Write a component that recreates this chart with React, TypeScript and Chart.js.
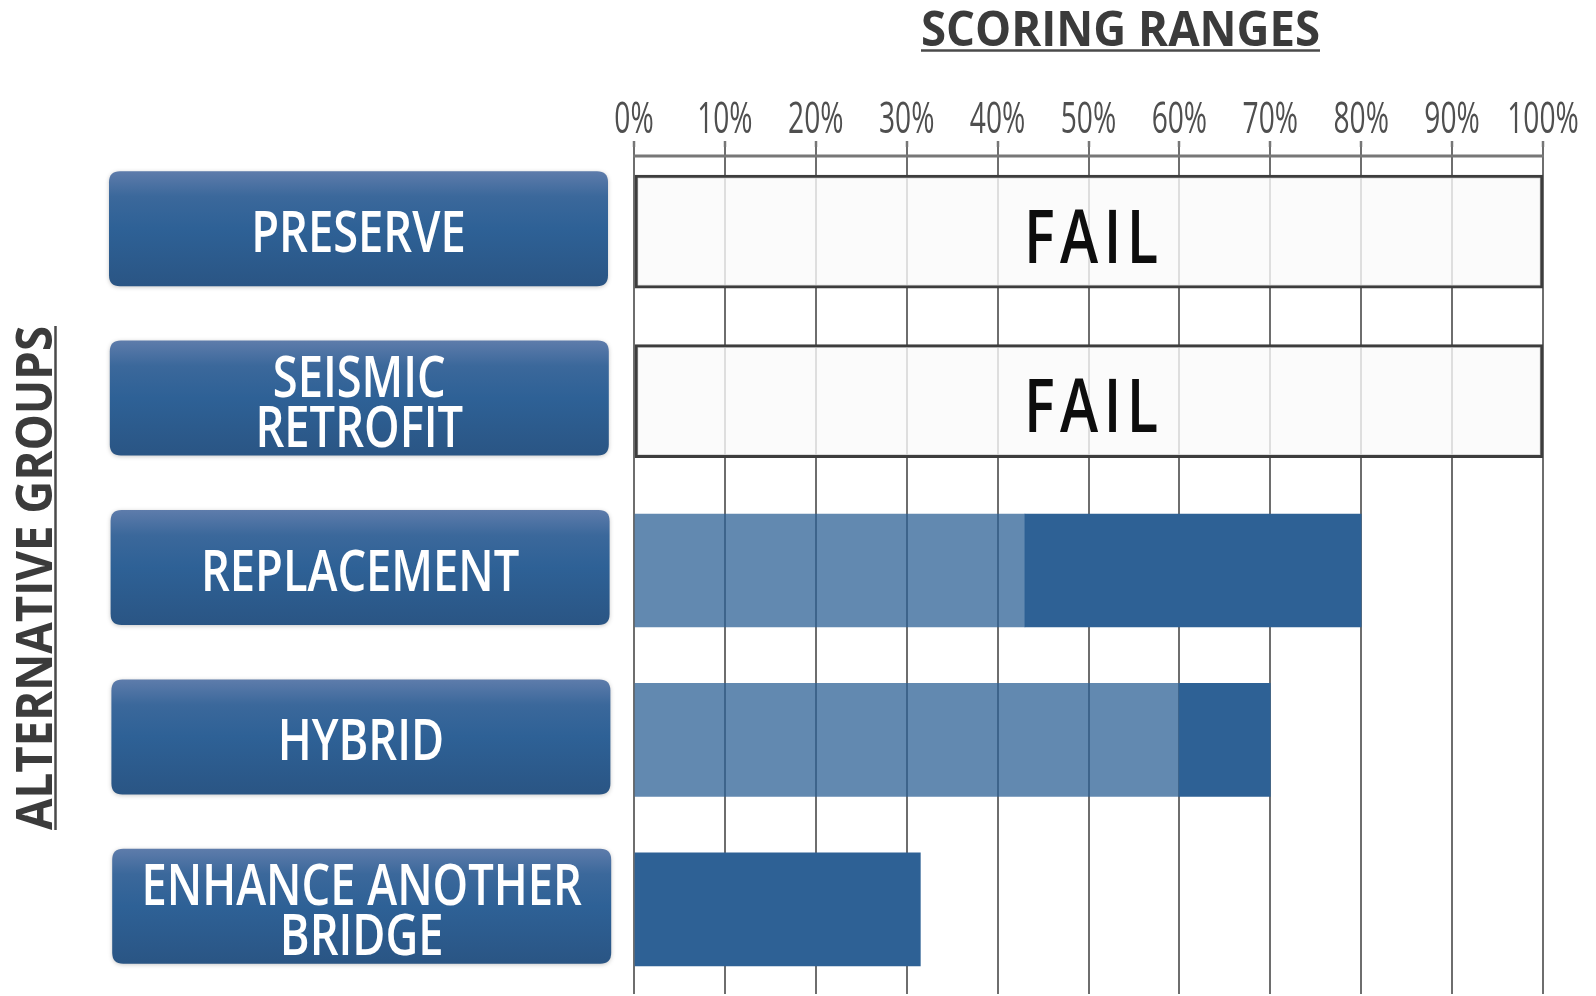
import React, { useEffect, useRef } from 'react';
import { Chart, registerables } from 'chart.js';

Chart.register(...registerables);

// ---------- data ----------
const categoryLabels: string[][] = [
  ['PRESERVE'],
  ['SEISMIC', 'RETROFIT'],
  ['REPLACEMENT'],
  ['HYBRID'],
  ['ENHANCE ANOTHER', 'BRIDGE'],
];
const failFlags: boolean[] = [true, true, false, false, false];
const lowerRangeEnd: (number | null)[] = [null, null, 43, 60, null];
const upperRangeStart: (number | null)[] = [null, null, 43, 60, 0];
const upperRangeEnd: (number | null)[] = [null, null, 80, 70, 31.5];
const xMin = 0;
const xMax = 100;
const xStep = 10;
const chartTitle = 'SCORING RANGES';
const yAxisTitle = 'ALTERNATIVE GROUPS';
const failText = 'FAIL';

// ---------- helpers ----------
function drawScaled(
  ctx: CanvasRenderingContext2D,
  text: string,
  x: number,
  y: number,
  font: string,
  color: string | CanvasGradient,
  sx: number,
  align: CanvasTextAlign = 'center',
) {
  ctx.save();
  ctx.translate(x, y);
  ctx.scale(sx, 1);
  ctx.font = font;
  ctx.fillStyle = color;
  ctx.textAlign = align;
  ctx.textBaseline = 'alphabetic';
  ctx.fillText(text, 0, 0);
  ctx.restore();
}

function roundRect(ctx: CanvasRenderingContext2D, x: number, y: number, w: number, h: number, r: number) {
  ctx.beginPath();
  ctx.moveTo(x + r, y);
  ctx.lineTo(x + w - r, y);
  ctx.quadraticCurveTo(x + w, y, x + w, y + r);
  ctx.lineTo(x + w, y + h - r);
  ctx.quadraticCurveTo(x + w, y + h, x + w - r, y + h);
  ctx.lineTo(x + r, y + h);
  ctx.quadraticCurveTo(x, y + h, x, y + h - r);
  ctx.lineTo(x, y + r);
  ctx.quadraticCurveTo(x, y, x + r, y);
  ctx.closePath();
}

const decorPlugin = {
  id: 'decor',
  beforeDraw(chart: any) {
    const ctx = chart.ctx as CanvasRenderingContext2D;
    ctx.save();
    ctx.fillStyle = '#ffffff';
    ctx.fillRect(0, 0, chart.width, chart.height);
    ctx.restore();
  },
  afterDraw(chart: any) {
    const ctx = chart.ctx as CanvasRenderingContext2D;
    const xs = chart.scales.x;
    const ys = chart.scales.y;
    const area = chart.chartArea;

    // horizontal axis line
    ctx.save();
    ctx.strokeStyle = '#777777';
    ctx.lineWidth = 3;
    ctx.beginPath();
    ctx.moveTo(area.left - 1, 156);
    ctx.lineTo(area.right + 1, 156);
    ctx.stroke();
    ctx.restore();

    // x tick labels
    xs.ticks.forEach((t: any) => {
      const px = xs.getPixelForValue(t.value);
      drawScaled(ctx, String(t.label), px, 133, '400 44px "Open Sans"', '#4f4f4f', 0.64);
    });

    // chart title
    ctx.save();
    ctx.font = 'bold 48px "Open Sans"';
    const tw = ctx.measureText(chartTitle).width;
    ctx.restore();
    const titleW = 399;
    const titleCx = 1120.5;
    drawScaled(ctx, chartTitle, titleCx, 46, 'bold 48px "Open Sans"', '#3b3b3b', titleW / tw);
    ctx.save();
    ctx.strokeStyle = '#4a4a4a';
    ctx.lineWidth = 2.5;
    ctx.beginPath();
    ctx.moveTo(titleCx - titleW / 2, 50.5);
    ctx.lineTo(titleCx + titleW / 2, 50.5);
    ctx.stroke();
    ctx.restore();

    // y axis title (rotated)
    ctx.save();
    ctx.font = 'bold 50px "Open Sans"';
    const aw = ctx.measureText(yAxisTitle).width;
    ctx.restore();
    const axisW = 504;
    const axisCy = 578;
    ctx.save();
    ctx.translate(52, axisCy);
    ctx.rotate(-Math.PI / 2);
    drawScaled(ctx, yAxisTitle, 0, 0, 'bold 50px "Open Sans"', '#3b3b3b', axisW / aw);
    ctx.restore();
    ctx.save();
    ctx.strokeStyle = '#4a4a4a';
    ctx.lineWidth = 2.5;
    ctx.beginPath();
    ctx.moveTo(55.5, axisCy - axisW / 2);
    ctx.lineTo(55.5, axisCy + axisW / 2);
    ctx.stroke();
    ctx.restore();

    // category buttons (y tick labels)
    const bx = 109;
    const bw = 499;
    const bh = 115;
    ys.ticks.forEach((t: any, i: number) => {
      const cy = ys.getPixelForValue(i);
      const top = cy - 3 - bh / 2;
      ctx.save();
      const g = ctx.createLinearGradient(0, top, 0, top + bh);
      g.addColorStop(0, '#5e7cab');
      g.addColorStop(0.22, '#3b689b');
      g.addColorStop(0.5, '#2e6196');
      g.addColorStop(1, '#2a5584');
      ctx.shadowColor = 'rgba(0,0,0,0.22)';
      ctx.shadowBlur = 4;
      ctx.shadowOffsetY = 1;
      roundRect(ctx, bx + i * 0.8, top, bw, bh, 11);
      ctx.fillStyle = g;
      ctx.fill();
      ctx.restore();

      const lines: string[] = Array.isArray(t.label) ? t.label : [String(t.label)];
      const n = lines.length;
      lines.forEach((line, j) => {
        const lc = cy + (j - (n - 1) / 2) * 50;
        const tg = ctx.createLinearGradient(0, lc - 21, 0, lc + 21);
        tg.addColorStop(0, '#ffffff');
        tg.addColorStop(0.6, '#ffffff');
        tg.addColorStop(1, '#dcdcdc');
        drawScaled(ctx, line, bx + i * 0.8 + bw / 2, lc + 20.5, '600 58px "Open Sans"', tg, 0.78);
      });
    });

    // FAIL text inside fail bars
    const meta = chart.getDatasetMeta(0);
    meta.data.forEach((el: any, i: number) => {
      if (!failFlags[i]) return;
      const cx = (el.base + el.x) / 2 + 2;
      const cy = el.y;
      ctx.save();
      ctx.font = '600 75px "Open Sans"';
      const spacing = 7;
      const chars = failText.split('');
      const widths = chars.map((c) => ctx.measureText(c).width);
      const total = widths.reduce((a, b) => a + b, 0) + spacing * (chars.length - 1);
      const sx = 0.77;
      ctx.translate(cx, cy + 31);
      ctx.scale(sx, 1);
      ctx.fillStyle = '#0d0d0d';
      ctx.textAlign = 'left';
      ctx.textBaseline = 'alphabetic';
      let x = -total / 2;
      chars.forEach((c, k) => {
        ctx.fillText(c, x, 0);
        x += widths[k] + spacing;
      });
      ctx.restore();
    });
  },
};

export default function App() {
  const canvasRef = useRef<HTMLCanvasElement | null>(null);

  useEffect(() => {
    const canvas = canvasRef.current;
    if (!canvas) return;

    const failData = failFlags.map((f) => (f ? [xMin, xMax] : null));
    const lowerData = lowerRangeEnd.map((v) => (v == null ? null : [xMin, v]));
    const upperData = upperRangeStart.map((s, i) =>
      s == null || upperRangeEnd[i] == null ? null : [s, upperRangeEnd[i] as number],
    );

    const chart = new Chart(canvas, {
      type: 'bar',
      data: {
        labels: categoryLabels as any,
        datasets: [
          {
            label: 'Fail',
            data: failData as any,
            backgroundColor: 'rgba(250,250,250,0.8)',
            borderColor: '#3d3d3d',
            borderWidth: 3,
            borderSkipped: false,
            grouped: false,
            barThickness: 113,
          } as any,
          {
            label: 'Lower range',
            data: lowerData as any,
            backgroundColor: 'rgba(46,97,149,0.75)',
            borderWidth: 0,
            borderSkipped: false,
            grouped: false,
            barThickness: 113,
          } as any,
          {
            label: 'Upper range',
            data: upperData as any,
            backgroundColor: '#2e6195',
            borderWidth: 0,
            borderSkipped: false,
            grouped: false,
            barThickness: 113,
          } as any,
        ],
      },
      options: {
        indexAxis: 'y',
        responsive: false,
        animation: false,
        layout: { padding: { left: 0, right: 53, top: 0, bottom: 2 } },
        plugins: {
          legend: { display: false },
          tooltip: { enabled: false },
          title: { display: false },
        },
        scales: {
          x: {
            type: 'linear',
            position: 'top',
            min: xMin,
            max: xMax,
            ticks: {
              display: false,
              stepSize: xStep,
              callback: (v: any) => v + '%',
            },
            grid: {
              color: '#6e6e6e',
              lineWidth: 2,
              drawTicks: true,
              tickLength: 6,
              tickColor: '#777777',
              tickWidth: 2.5,
            },
            border: { display: false },
            afterFit: (s: any) => {
              s.height = 147;
            },
          },
          y: {
            type: 'category',
            offset: true,
            grid: { display: false },
            ticks: { display: false },
            border: { display: false },
            afterFit: (s: any) => {
              s.width = 634;
            },
          },
        },
      } as any,
      plugins: [decorPlugin],
    });

    return () => {
      chart.destroy();
    };
  }, []);

  return (
    <div style={{ position: 'fixed', left: 0, top: 0, width: 1596, height: 996, background: '#fff' }}>
      <canvas ref={canvasRef} width={1596} height={996} style={{ display: 'block', width: 1596, height: 996 }} />
    </div>
  );
}
